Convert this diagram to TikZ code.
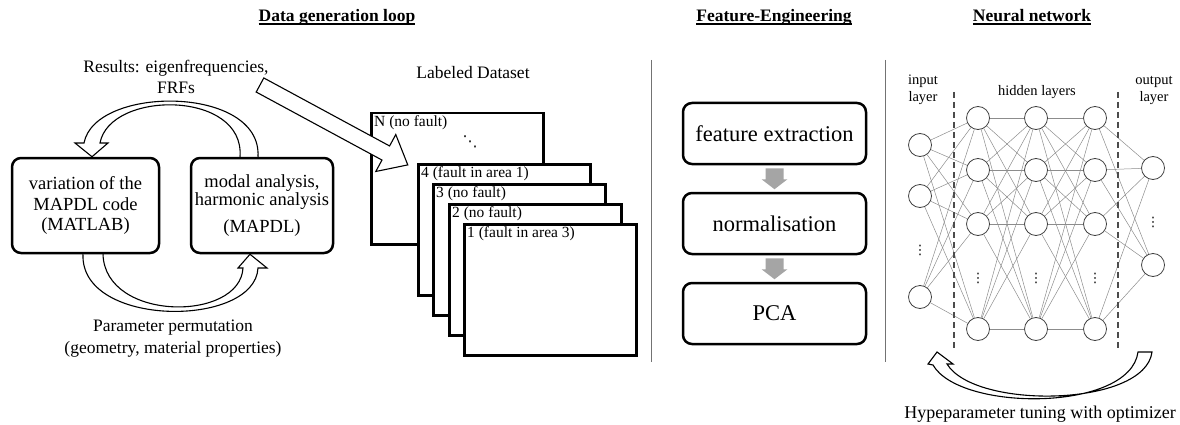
\documentclass[tikz,border=0pt]{standalone}
\usepackage{fontspec}
\setmainfont{Liberation Serif}
\newfontfamily\dvsfont{DejaVu Sans}
\usetikzlibrary{calc}
\pgfdeclarelayer{bg}
\pgfsetlayers{bg,main}
\newcommand\myul[1]{\sbox0{#1}\rlap{\rule[-2.6pt]{\wd0}{1.4pt}}\box0}
\definecolor{garrowc}{RGB}{165,165,165}
\begin{document}
\begin{tikzpicture}[x=1pt,y=-1pt,
  ttl/.style={anchor=base, font=\fontsize{17.5}{20}\selectfont\bfseries, inner sep=0},
  txt/.style={font=\fontsize{17.5}{21}\selectfont, align=center, inner sep=0},
  box/.style={draw, line width=2.5, rounded corners=9, fill=white, align=center, inner sep=0},
  card/.style={draw, line width=2.5, fill=white, minimum width=172, minimum height=131, inner sep=0, anchor=north west},
  lbl/.style={font=\fontsize{15.5}{17}\selectfont, inner sep=0, anchor=north west},
  neuron/.style={circle, draw=black!75, line width=0.8, fill=white, minimum size=23, inner sep=0},
  nnedge/.style={draw=black!45, line width=0.5},
  hollow/.style={draw, fill=white, line width=1.1, line join=miter},
  sepline/.style={draw=black!55, line width=1},
  dashline/.style={draw=black!70, line width=1.3, dash pattern=on 6pt off 4pt},
  nnl/.style={font=\fontsize{14.5}{17}\selectfont, align=center, inner sep=0},
  dotsn/.style={font=\dvsfont\fontsize{13}{13}\selectfont, inner sep=0},
  garrow/.style={fill=garrowc}
]
\useasboundingbox (0,0) rectangle (1180,425);

% titles
\node[ttl] (t1) at (337,22) {\myul{Data generation loop}};
\node[ttl] (t2) at (774,22) {\myul{Feature-Engineering}};
\node[ttl] (t3) at (1032,22) {\myul{Neural network}};

% separators
\draw[sepline] (651,60) -- (651,362);
\draw[sepline] (885,60) -- (885,362);

% ---------- data generation loop ----------
\node[box, minimum width=147, minimum height=95, font=\fontsize{18.5}{20.5}\selectfont] (b1) at (85.5,205.5) {variation of the\\MAPDL code\\(MATLAB)};
\node[box, minimum width=142, minimum height=95, font=\fontsize{18.5}{18.5}\selectfont] (b2) at (262,205.5) {modal analysis,\\harmonic analysis\\[8pt](MAPDL)};

\begin{pgfonlayer}{bg}
\draw[hollow] ([shift={(-4,0)}]b2.north) .. controls (262,85) and (95,85) .. (84,143)
  -- (75,143) -- ([shift={(6.5,0)}]b1.north) -- (108,143) -- (100,143)
  .. controls (110,90) and (245,90) .. ([shift={(-22,0)}]b2.north);
\draw[hollow] ([shift={(-2.5,0)}]b1.south) .. controls (80,328) and (255,328) .. (258,268)
  -- (267,268) -- ([shift={(-12,0)}]b2.south) -- (238,268) -- (243,268)
  .. controls (240,322) and (105,322) .. ([shift={(17.5,0)}]b1.south);
\end{pgfonlayer}

\node[txt] (res) at (176,77) {Results: eigenfrequencies,\\FRFs};
\node[txt, font=\fontsize{17.5}{22}\selectfont] (perm) at (173,339) {Parameter permutation\\(geometry, material properties)};

% ---------- dataset ----------
\node[txt] (ld) at (473,73) {Labeled Dataset};
\node[card] (cN) at (370,112) {};
\node[lbl] (lN) at ([shift={(4,3)}]cN.north west) {N (no fault)};
\node[font=\dvsfont\fontsize{15}{15}\selectfont, inner sep=0] (dd) at (470,142) {⋱};

\begin{scope}[shift={(260,85)}, rotate=-28.4]
\draw[hollow] (0,-8) -- (143,-8) -- (143,-21) -- (168,0) -- (143,21) -- (143,8) -- (0,8) -- cycle;
\end{scope}

\node[card] (c4) at (417,163) {};
\node[lbl] (l4) at ([shift={(4,3)}]c4.north west) {4 (fault in area 1)};
\node[card] (c3) at (432,183) {};
\node[lbl] (l3) at ([shift={(4,3)}]c3.north west) {3 (no fault)};
\node[card] (c2) at (448,203) {};
\node[lbl] (l2) at ([shift={(4,3)}]c2.north west) {2 (no fault)};
\node[card] (c1) at (463,223) {};
\node[lbl] (l1) at ([shift={(4,3)}]c1.north west) {1 (fault in area 3)};

% ---------- feature engineering ----------
\node[box, minimum width=183, minimum height=61, font=\fontsize{22.5}{24}\selectfont] (f1) at (774.5,133.5) {feature extraction};
\node[box, minimum width=183, minimum height=61, font=\fontsize{22.5}{24}\selectfont] (f2) at (774.5,223.5) {normalisation};
\node[box, minimum width=183, minimum height=61, font=\fontsize{22.5}{24}\selectfont] (f3) at (774.5,313.5) {PCA};
\fill[garrow] ([shift={(-9,3)}]f1.south) -- ++(18,0) -- ++(0,11) -- ++(4,0) -- ++(-13,10) -- ++(-13,-10) -- ++(4,0) -- cycle;
\fill[garrow] ([shift={(-9,3)}]f2.south) -- ++(18,0) -- ++(0,11) -- ++(4,0) -- ++(-13,10) -- ++(-13,-10) -- ++(4,0) -- cycle;

% ---------- neural network ----------
\node[nnl] (nin) at (923,90) {input\\layer};
\node[nnl] (nhid) at (1037,92) {hidden layers};
\node[nnl] (nout) at (1154,90) {output\\layer};

\draw[dashline] (954,92) -- (954,350);
\draw[dashline] (1118,92) -- (1118,350);

\foreach \yy [count=\k] in {145,196,297} \node[neuron] (i\k) at (920,\yy) {};
\foreach \yy [count=\k] in {118,170,224,329} {
  \node[neuron] (a\k) at (978,\yy) {};
  \node[neuron] (b\k) at (1036,\yy) {};
  \node[neuron] (c\k) at (1095,\yy) {};
}
\foreach \yy [count=\k] in {168,265} \node[neuron] (o\k) at (1153,\yy) {};

\begin{pgfonlayer}{bg}
\foreach \p in {1,2,3} \foreach \q in {1,...,4} \draw[nnedge] (i\p) -- (a\q);
\foreach \p in {1,...,4} \foreach \q in {1,...,4} {\draw[nnedge] (a\p) -- (b\q); \draw[nnedge] (b\p) -- (c\q);}
\foreach \p in {1,...,4} \foreach \q in {1,2} \draw[nnedge] (c\p) -- (o\q);
\end{pgfonlayer}

\node[dotsn] (di) at (920,250) {⋮};
\node[dotsn] (da) at (978,278) {⋮};
\node[dotsn] (db) at (1036,278) {⋮};
\node[dotsn] (dc) at (1095,278) {⋮};
\node[dotsn] (do) at (1153,222) {⋮};

\draw[hollow] (933,365) .. controls (960,412) and (1130,412) .. (1138,352) -- (1152,352)
  .. controls (1145,407) and (975,410) .. (947,364) -- (953,364) -- (937,352) -- (928,364) -- cycle;
\node[txt, font=\fontsize{18}{20}\selectfont] (hyp) at (1040,414) {Hypeparameter tuning with optimizer};
\end{tikzpicture}
\end{document}
